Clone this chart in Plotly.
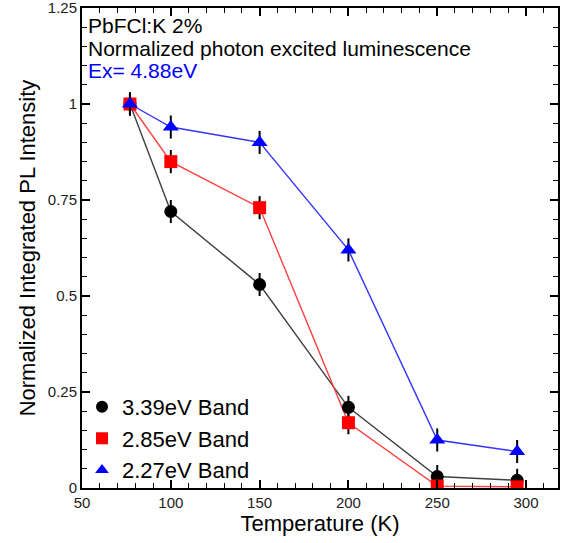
import plotly.graph_objects as go

# Temperature (K) and normalized integrated PL intensity for each emission band
temperature = [77, 100, 150, 200, 250, 295]
band_339 = [1.0, 0.72, 0.53, 0.21, 0.03, 0.02]
band_285 = [1.0, 0.85, 0.73, 0.17, 0.005, 0.003]
band_227 = [1.0, 0.94, 0.90, 0.62, 0.125, 0.095]
err = [0.03, 0.03, 0.03, 0.03, 0.03, 0.03]

series = [
    ("3.39eV Band", band_339, "black", "#404040", "circle", 13),
    ("2.85eV Band", band_285, "#ff0000", "#ff4040", "square", 13),
    ("2.27eV Band", band_227, "#0000ff", "#3333ff", "triangle-up", 14),
]

FONT = "Liberation Sans, Arial, sans-serif"

fig = go.Figure()

# connecting lines
for name, vals, mcol, lcol, sym, size in series:
    fig.add_trace(go.Scatter(
        x=temperature, y=vals, mode="lines",
        line=dict(color=lcol, width=1.4),
        showlegend=False, hoverinfo="skip",
    ))

# markers with error bars
for i, (name, vals, mcol, lcol, sym, size) in enumerate(series):
    fig.add_trace(go.Scatter(
        x=temperature, y=vals, mode="markers", name=name,
        marker=dict(color=mcol, symbol=sym, size=size, line=dict(width=0)),
        error_y=dict(type="data", array=err, visible=True,
                     color="black", thickness=2, width=0),
        legendgroup=f"g{i}",
    ))

axis_common = dict(
    showline=True, linecolor="black", linewidth=2, mirror="allticks",
    ticks="inside", ticklen=8, tickwidth=1.5, tickcolor="black",
    showgrid=False, zeroline=False, automargin=False,
    ticklabeloverflow="allow",
    tickfont=dict(family=FONT, size=15, color="#222222"),
)

fig.update_xaxes(
    range=[50, 318], tick0=50, dtick=50,
    minor=dict(ticks="inside", ticklen=5, tickwidth=1.2, dtick=10, tick0=50, tickcolor="black"),
    title=dict(text="Temperature (K)", font=dict(family=FONT, size=22, color="black"), standoff=6),
    **axis_common,
)
fig.update_yaxes(
    range=[0, 1.25], tick0=0, dtick=0.25,
    minor=dict(ticks="inside", ticklen=5, tickwidth=1.2, dtick=0.05, tick0=0, tickcolor="black"),
    title=dict(text="Normalized Integrated PL Intensity", font=dict(family=FONT, size=22, color="black"), standoff=6),
    **axis_common,
)

notes = [
    ("PbFCl:K 2%", "black", 0.9625),
    ("Normalized photon excited luminescence", "black", 0.9146),
    ("Ex= 4.88eV", "#0000ff", 0.869),
]
for text, color, yy in notes:
    fig.add_annotation(
        text=text, xref="paper", yref="paper", x=0.008, y=yy,
        xanchor="left", yanchor="middle", showarrow=False,
        font=dict(family=FONT, size=21, color=color),
    )

fig.update_layout(
    width=570, height=543,
    margin=dict(l=82, r=12, t=8, b=55),
    paper_bgcolor="white", plot_bgcolor="white",
    font=dict(family=FONT, color="black"),
    showlegend=True,
    legend=dict(
        x=0.0, y=-0.006, xanchor="left", yanchor="bottom",
        bgcolor="rgba(0,0,0,0)", borderwidth=0,
        font=dict(family=FONT, size=22, color="black"),
        tracegroupgap=0, itemsizing="constant",
    ),
)

fig.write_html("out.html")
